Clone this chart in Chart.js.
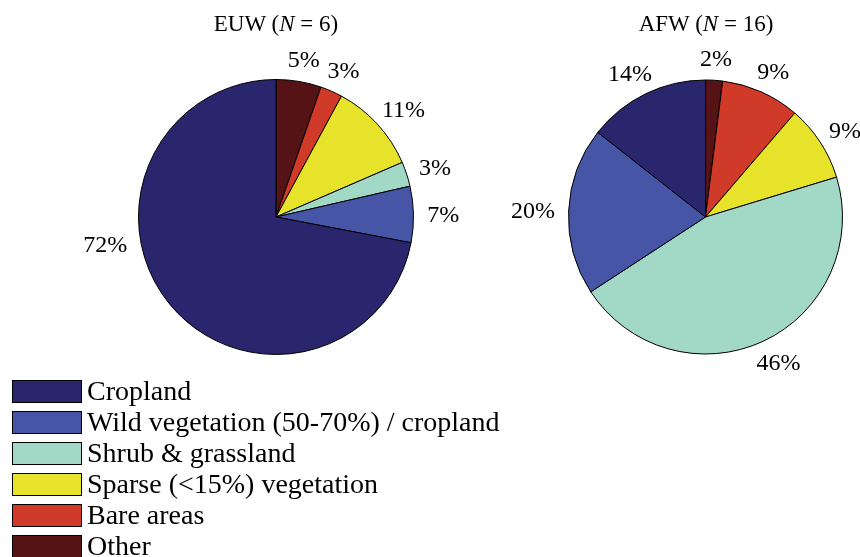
<!DOCTYPE html>
<html>
<head>
<meta charset="utf-8">
<script src="https://cdn.jsdelivr.net/npm/chart.js@4.4.0/dist/chart.umd.min.js"></script>
<style>
body{margin:0;background:#fff;font-family:"Liberation Serif",serif;color:#000;}
#wrap{position:relative;width:860px;height:557px;overflow:hidden;}
canvas{position:absolute;left:0;top:0;}
.title{position:absolute;top:12px;font-size:23px;line-height:23px;transform:translateX(-50%);white-space:nowrap;}
#legend{position:absolute;left:12px;top:380px;}
.row{height:31px;display:flex;align-items:flex-start;}
.box{width:68px;height:21px;border:1px solid #000;}
.lab{font-size:28px;line-height:23px;margin-left:5px;margin-top:-1px;white-space:nowrap;}
</style>
</head>
<body>
<div id="wrap">
  <canvas id="euw" width="860" height="557"></canvas>
  <canvas id="afw" width="860" height="557"></canvas>
  <div class="title" style="left:276px">EUW (<i>N</i> = 6)</div>
  <div class="title" style="left:706px">AFW (<i>N</i> = 16)</div>
  <div id="legend"></div>
</div>
<script>
// categories in legend order
const categories = ['Cropland','Wild vegetation (50-70%) / cropland','Shrub & grassland','Sparse (<15%) vegetation','Bare areas','Other'];
const colours = ['#29266d','#4655a5','#a2d8c6','#e6e32a','#d03a28','#561315'];
// share of each category, %
const euwValues = [72.0, 6.6, 2.9, 10.6, 2.6, 5.3];
const afwValues = [14.4, 19.8, 45.5, 9.0, 9.3, 2.0];

// legend
const leg = document.getElementById('legend');
categories.forEach((c,i)=>{
  const row = document.createElement('div');
  row.className = 'row';
  const box = document.createElement('div');
  box.className = 'box';
  box.style.background = colours[i];
  const lab = document.createElement('div');
  lab.className = 'lab';
  lab.textContent = c;
  row.appendChild(box);
  row.appendChild(lab);
  leg.appendChild(row);
});

// percentage labels outside the slices
const pctLabels = {
  id:'pctLabels',
  afterDatasetsDraw(chart, args, opts){
    const ctx = chart.ctx;
    const meta = chart.getDatasetMeta(0);
    ctx.save();
    ctx.font = '24px "Liberation Serif"';
    ctx.fillStyle = '#000';
    ctx.textAlign = 'center';
    ctx.textBaseline = 'alphabetic';
    meta.data.forEach((arc,i)=>{
      const p = arc.getProps(['x','y','startAngle','endAngle','outerRadius'], true);
      const txt = Math.round(chart.data.datasets[0].data[i]) + '%';
      const shift = (opts.shift && opts.shift[i]) || 0;
      const a = (p.startAngle + p.endAngle)/2 + shift*Math.PI/180;
      const dx = Math.cos(a), dy = Math.sin(a);
      const w = ctx.measureText(txt).width, h = 18;
      const cx = p.x + dx*p.outerRadius*1.1 + dx*w/2;
      const cy = p.y + dy*p.outerRadius*1.1 + dy*h/2;
      ctx.fillText(txt, cx, cy + 8);
    });
    ctx.restore();
  }
};

// pies run clockwise from the top: Other first, Cropland last
function makePie(id, values, padding, shift){
  return new Chart(document.getElementById(id).getContext('2d'),{
    type:'pie',
    data:{
      labels:categories.slice().reverse(),
      datasets:[{
        data:values.slice().reverse(),
        backgroundColor:colours.slice().reverse(),
        borderColor:'#000',
        borderWidth:1
      }]
    },
    options:{
      responsive:false,
      animation:false,
      layout:{padding:padding},
      plugins:{
        legend:{display:false},
        tooltip:{enabled:false},
        pctLabels:{shift:shift}
      }
    },
    plugins:[pctLabels]
  });
}

makePie('euw', euwValues, {left:138, right:446, top:79, bottom:202}, {5:30});
makePie('afw', afwValues, {left:568, right:17, top:79, bottom:202}, {});
</script>
</body>
</html>
